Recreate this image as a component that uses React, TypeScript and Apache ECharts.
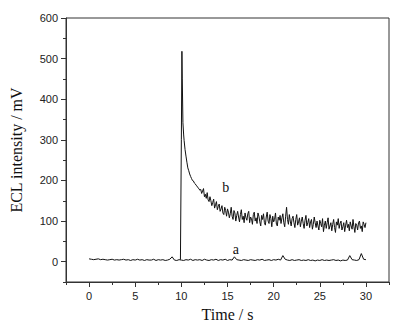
import React, { useEffect, useRef } from "react";
import * as echarts from "echarts";

// Sampling grids (time, s)
const aStart = 0;
const aStep = 0.25;
// Curve a: baseline signal (mV), one value every 0.25 s from 0 to 30 s
const aValues = [
  7, 6, 5, 6, 7, 5, 6, 5,
  4, 5, 6, 4, 5, 4, 5, 6,
  4, 5, 3, 5, 4, 6, 4, 5,
  3, 5, 4, 4, 6, 3, 5, 4,
  5, 3, 4, 6, 12, 4, 3, 5,
  4, 3, 5, 4, 6, 3, 5, 4,
  5, 3, 6, 4, 3, 5, 4, 6,
  3, 5, 4, 6, 3, 5, 4, 12,
  5, 4, 3, 5, 4, 3, 5, 4,
  3, 5, 4, 6, 3, 4, 5, 3,
  5, 4, 6, 4, 15, 6, 4, 3,
  5, 3, 4, 5, 3, 4, 3, 5,
  3, 4, 2, 4, 3, 5, 3, 4,
  3, 4, 5, 3, 4, 2, 4, 3,
  4, 15, 5, 4, 3, 5, 20, 6,
  5,
];

// Curve b: rise and fast decay (time, mV)
const bPeakTimes = [9.9, 9.95, 10.0, 10.06, 10.1, 10.17, 10.25, 10.3, 10.4, 10.5, 10.6, 10.7, 10.8, 10.9, 11.0];
const bPeakValues = [5, 5, 300, 518, 450, 342, 312, 298, 276, 260, 245, 231, 224, 216, 210];
// Curve b tail: one value every 0.1 s from 11.1 to 30.0 s
const bTailStart = 11.1;
const bTailStep = 0.1;
const bTailValues = [
  205, 200, 199, 194, 192, 188, 186, 182, 180, 176,
  178, 168, 174, 180, 160, 166, 156, 170, 152, 148,
  160, 150, 138, 146, 154, 132, 140, 148, 128, 136,
  142, 124, 130, 138, 120, 116, 134, 126, 112, 130,
  122, 108, 118, 134, 112, 104, 126, 120, 100, 114,
  124, 110, 98, 116, 128, 104, 112, 96, 120, 108,
  102, 118, 124, 96, 110, 106, 92, 116, 122, 100,
  108, 94, 120, 112, 98, 88, 114, 104, 118, 96,
  90, 110, 122, 100, 94, 116, 106, 86, 112, 98,
  104, 120, 92, 88, 110, 102, 114, 94, 108, 118,
  96, 86, 112, 134, 104, 92, 116, 100, 88, 106,
  112, 96, 84, 104, 116, 90, 98, 108, 86, 100,
  110, 94, 82, 102, 114, 88, 96, 106, 84, 98,
  104, 80, 92, 110, 96, 84, 100, 88, 78, 102,
  94, 86, 106, 74, 90, 100, 82, 96, 108, 80,
  88, 96, 76, 92, 104, 84, 72, 98, 90, 106,
  82, 94, 100, 78, 86, 96, 74, 90, 102, 84,
  92, 76, 98, 88, 80, 104, 86, 72, 94, 90,
  78, 96, 100, 82, 88, 74, 98, 92, 84, 96,
];

// Curve labels
const curveLabels = ["a", "b"];
const labelX = [15.9, 14.8];
const labelY = [30, 182];

// Axis ticks
const xMajorTicks = [0, 5, 10, 15, 20, 25, 30];
const xMinorTicks = [-2.5, 2.5, 7.5, 12.5, 17.5, 22.5, 27.5, 32.5];
const yMajorTicks = [0, 100, 200, 300, 400, 500, 600];
const yMinorTicks = [-50, 50, 150, 250, 350, 450, 550];
const xMin = -2.5;
const xMax = 32.5;
const yMin = -50;
const yMax = 600;

export default function App() {
  const ref = useRef<HTMLDivElement>(null);

  useEffect(() => {
    if (!ref.current) return;
    const chart = echarts.init(ref.current, undefined, { renderer: "svg" });

    const aData = aValues.map((v, i) => [+(aStart + i * aStep).toFixed(3), v]);
    const bData = bPeakTimes
      .map((t, i) => [t, bPeakValues[i]])
      .concat(bTailValues.map((v, i) => [+(bTailStart + i * bTailStep).toFixed(3), v]));

    const axisColor = "#333";
    const tickFont = { fontFamily: "Liberation Sans, Arial, sans-serif", fontSize: 11, color: "#222" };
    const serif = "Liberation Serif, Times New Roman, serif";

    chart.setOption({
      animation: false,
      backgroundColor: "#fff",
      color: ["#111", "#111"],
      grid: {
        left: 64,
        right: 24,
        top: 18,
        bottom: 47,
        show: true,
        borderColor: axisColor,
        borderWidth: 1,
        backgroundColor: "transparent",
      },
      xAxis: [
        {
          type: "value",
          min: xMin,
          max: xMax,
          position: "bottom",
          name: "Time / s",
          nameLocation: "middle",
          nameGap: 24,
          nameTextStyle: { fontFamily: serif, fontSize: 16, color: "#111" },
          axisLine: { show: true, onZero: false, lineStyle: { color: axisColor, width: 1 } },
          axisTick: { show: true, inside: false, length: 5, customValues: xMajorTicks, lineStyle: { color: axisColor } },
          axisLabel: { show: true, margin: 8, customValues: xMajorTicks, ...tickFont },
          splitLine: { show: false },
        },
        {
          type: "value",
          min: xMin,
          max: xMax,
          position: "bottom",
          axisLine: { show: false, onZero: false },
          axisTick: { show: true, inside: false, length: 3, customValues: xMinorTicks, lineStyle: { color: axisColor } },
          axisLabel: { show: false },
          splitLine: { show: false },
        },
      ],
      yAxis: [
        {
          type: "value",
          min: yMin,
          max: yMax,
          position: "left",
          name: "ECL intensity / mV",
          nameLocation: "middle",
          nameGap: 42,
          nameTextStyle: { fontFamily: serif, fontSize: 16, color: "#111" },
          axisLine: { show: true, onZero: false, lineStyle: { color: axisColor, width: 1 } },
          axisTick: { show: true, inside: false, length: 5, customValues: yMajorTicks, lineStyle: { color: axisColor } },
          axisLabel: { show: true, margin: 8, customValues: yMajorTicks, ...tickFont },
          splitLine: { show: false },
        },
        {
          type: "value",
          min: yMin,
          max: yMax,
          position: "left",
          axisLine: { show: false, onZero: false },
          axisTick: { show: true, inside: false, length: 3, customValues: yMinorTicks, lineStyle: { color: axisColor } },
          axisLabel: { show: false },
          splitLine: { show: false },
        },
      ],
      series: [
        {
          type: "line",
          name: "a",
          data: aData,
          showSymbol: false,
          symbol: "none",
          lineStyle: { color: "#111", width: 1 },
          xAxisIndex: 0,
          yAxisIndex: 0,
        },
        {
          type: "line",
          name: "b",
          data: bData,
          showSymbol: false,
          symbol: "none",
          lineStyle: { color: "#111", width: 1 },
          xAxisIndex: 0,
          yAxisIndex: 0,
        },
      ],
    });

    const textEls = curveLabels.map((l, i) => {
      const [px, py] = chart.convertToPixel({ xAxisIndex: 0, yAxisIndex: 0 }, [labelX[i], labelY[i]]);
      return {
        type: "text",
        x: px,
        y: py,
        style: {
          text: l,
          fill: "#111",
          font: `14px ${serif}`,
          align: "center",
          verticalAlign: "middle",
        },
      };
    });
    chart.setOption({ graphic: textEls });

    return () => chart.dispose();
  }, []);

  return (
    <div
      ref={ref}
      style={{ position: "fixed", left: 0, top: 0, width: 413, height: 329, background: "#fff" }}
    />
  );
}
